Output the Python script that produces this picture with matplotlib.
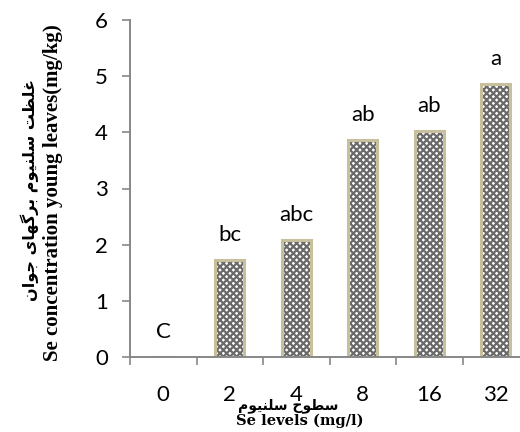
import numpy as np
import matplotlib
matplotlib.use("Agg")
import matplotlib.pyplot as plt

# data
se_levels = ["0", "2", "4", "8", "16", "32"]
se_conc = [0.0, 1.72, 2.08, 3.87, 4.02, 4.86]
letters = ["C", "bc", "abc", "ab", "ab", "a"]

# Persian labels written in visual order with presentation forms
# (matplotlib does no Arabic shaping / bidi)
ylabel_fa = ("\uFEE5\uFE8D\uFEEE\uFE9F "
             "\uFEEF\uFE8E\uFEEC\uFB94\uFEAE\uFE91 "
             "\uFEE1\uFEEE\uFEF4\uFEE8\uFEE0\uFEB3 "
             "\uFE96\uFEC8\uFEE0\uFECF")
ylabel_en = "Se concentration young leaves(mg/kg)"
xlabel_fa = "\uFEE1\uFEEE\uFEF4\uFEE8\uFEE0\uFEB3 \uFEA1\uFEEE\uFEC4\uFEB3"
xlabel_en = "Se levels (mg/l)"

TICK_FONT = "Lato"
AXIS_GREY = "#878787"
EDGE_TAN = "#c8c09c"

W, H = 520, 432
fig = plt.figure(figsize=(W / 100, H / 100), dpi=100)
ax = fig.add_axes([130 / W, (H - 357) / H, 399 / W, 337 / H])

x = np.arange(len(se_levels))
plt.rcParams["hatch.linewidth"] = 1.6
ax.bar(x, se_conc, width=0.44, color="white", hatch="xxxxx", edgecolor="#6a6a6a", linewidth=0)
ax.bar(x, se_conc, width=0.44, fill=False, edgecolor=EDGE_TAN, linewidth=2.2)

for xi, v, lab in zip(x, se_conc, letters):
    ax.annotate(lab, (xi, v), xytext=(0, 18), textcoords="offset points",
                ha="center", va="center", fontsize=16, family=TICK_FONT)

ax.set_xlim(-0.5, 5.5)
ax.set_ylim(0, 6)
ax.set_yticks(range(0, 7))
ax.set_xticks(x)
ax.set_xticklabels(se_levels)
ax.set_xticks(np.arange(-0.5, 6, 1), minor=True)

for s in ("top", "right"):
    ax.spines[s].set_visible(False)
for s in ("left", "bottom"):
    ax.spines[s].set_color(AXIS_GREY)
    ax.spines[s].set_linewidth(1.4)

ax.tick_params(axis="y", direction="out", length=6, width=1.2, color=AXIS_GREY, pad=10,
               labelsize=16)
ax.tick_params(axis="x", which="major", length=0, pad=20, labelsize=16)
ax.tick_params(axis="x", which="minor", direction="out", length=6, width=1.2, color=AXIS_GREY)
for t in ax.get_xticklabels() + ax.get_yticklabels():
    t.set_family(TICK_FONT)

# axis titles
fig.text(53 / W, (H - 193) / H, ylabel_en, rotation=90, ha="center", va="center",
         fontsize=15, fontweight="bold", family=["Liberation Serif"])
fig.text(30 / W, (H - 190) / H, ylabel_fa, rotation=90, ha="center", va="center",
         fontsize=11.5, fontweight="bold", family=["DejaVu Sans"])
fig.text(288 / W, (H - 406) / H, xlabel_fa, ha="center", va="center",
         fontsize=10, fontweight="bold", family=["DejaVu Sans"])
fig.text(300 / W, (H - 421) / H, xlabel_en, ha="center", va="center",
         fontsize=10.5, fontweight="bold", family=["DejaVu Serif"])

fig.savefig("out.png", dpi=100)
